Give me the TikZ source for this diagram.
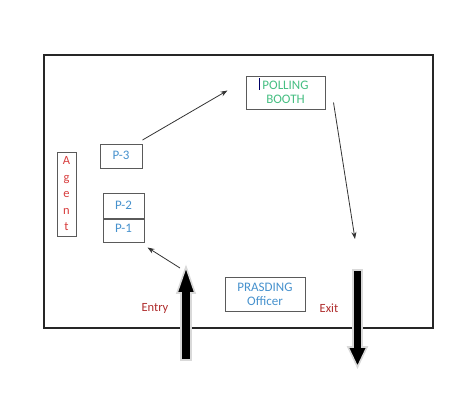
\documentclass[tikz,border=0pt]{standalone}
\usepackage{fontspec}
\setmainfont{Carlito}
\usetikzlibrary{calc,arrows.meta}
\definecolor{txtblue}{RGB}{70,145,205}
\definecolor{txtgreen}{RGB}{70,190,130}
\definecolor{txtred}{RGB}{215,60,60}
\definecolor{txtdred}{RGB}{175,45,45}
\definecolor{boxgray}{RGB}{90,90,90}
\tikzset{
  box/.style={draw=boxgray, line width=1pt, inner sep=0pt, font=\fontsize{13}{15}\selectfont},
  conn/.style={draw=black!80, line width=0.8pt, -{Stealth[length=7pt,width=5pt]}},
  fat/.style={fill=black, draw=black!15, line width=1.6pt, line join=miter},
  lbl/.style={font=\fontsize{12.5}{14}\selectfont, text=txtdred}
}
\begin{document}
\begin{tikzpicture}[x=1pt,y=-1pt]
\useasboundingbox (0,0) rectangle (472,400);
% outer room
\draw[line width=2pt, black!85] (44,55) rectangle (433,328);
% boxes
\node[box, minimum width=79pt, minimum height=33pt, align=center] (poll) at (285.5,92.5) {\textcolor{txtgreen}{POLLING}\\[-1pt]\textcolor{txtgreen}{BOOTH}};
\draw[line width=1.8pt, blue!40!black] (259.5,78) -- (259.5,90);
\node[box, minimum width=42pt, minimum height=24pt, text=txtblue, anchor=north] (p3) at (121,144) {\raisebox{3pt}{P-3}};
\node[box, minimum width=19pt, minimum height=84pt, align=center, font=\fontsize{12.5}{16.5}\selectfont] (agent) at (66.5,194) {\textcolor{txtred}{A}\\\textcolor{txtred}{g}\\\textcolor{txtred}{e}\\\textcolor{txtred}{n}\\\textcolor{txtred}{t}};
\node[box, minimum width=41pt, minimum height=25pt, text=txtblue] (p2) at (123.5,205.5) {P-2};
\node[box, minimum width=41pt, minimum height=23pt, text=txtblue, anchor=north] (p1) at (p2.south) {\raisebox{4pt}{P-1}};
\node[box, minimum width=80pt, minimum height=34pt, align=center] (po) at (265,294) {\textcolor{txtblue}{PRASDING}\\[-1pt]\textcolor{txtblue}{Officer}};
\node[lbl] (entry) at (155,308) {Entry};
\node[lbl] (exit) at (329,308) {Exit};
% fat arrows
\coordinate (entrytip) at (186,267);
\coordinate (exitpt) at (355,239);
\draw[fat] (181,360) -- (181,293) -- (177,293) -- (entrytip) -- (195,293) -- (191,293) -- (191,360) -- cycle;
\draw[fat] (353,270) -- (362,270) -- (362,347) -- (367,347) -- (357.5,367) -- (348,347) -- (353,347) -- cycle;
% connectors
\draw[conn] ($(p3.north east)+(0,-4)$) -- ($(poll.west)+(-18,-2)$);
\draw[conn] ($(poll.east)+(8,10)$) -- (exitpt);
\draw[conn] ($(entrytip)+(-6,1)$) -- ($(p1.south east)+(3,5)$);
\end{tikzpicture}
\end{document}
